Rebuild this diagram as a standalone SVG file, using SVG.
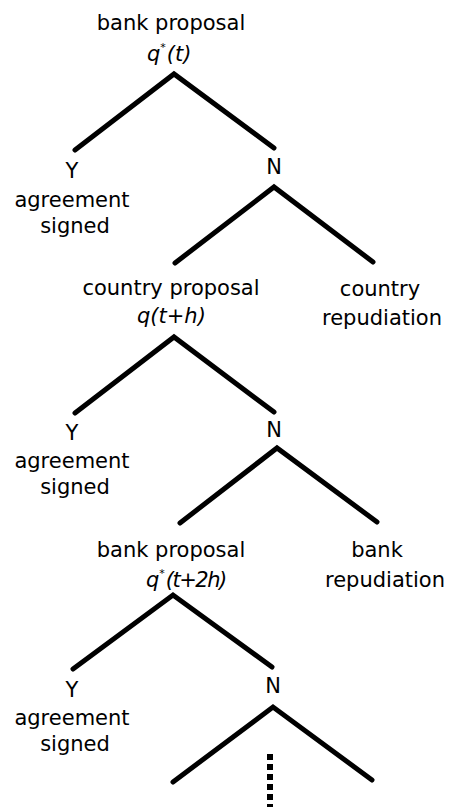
<svg xmlns="http://www.w3.org/2000/svg" width="451" height="807" viewBox="0 0 451 807">
<style>
text{font-family:"DejaVu Sans","Noto Sans",sans-serif;font-size:21px;fill:#000;text-anchor:middle}
.it{font-style:italic;text-anchor:start}
.sup{font-size:11px}
.br{fill:none;stroke:#000;stroke-width:5;stroke-linejoin:miter;stroke-linecap:round}
.dots{fill:none;stroke:#000;stroke-width:6;stroke-dasharray:6 4}
</style>
<rect width="451" height="807" fill="#fff"/>
<g id="connectors">
<polyline class="br" points="75,150 174,74 274,148"/>
<polyline class="br" points="175,263 274,187 373,262"/>
<polyline class="br" points="75,413 174,337 274,412"/>
<polyline class="br" points="180,523 277,448 377,522"/>
<polyline class="br" points="73,669 173,595 272,667"/>
<polyline class="br" points="173,782 273,707 372,780"/>
<line class="dots" x1="270" y1="754" x2="270" y2="807"/>
</g>
<g id="bank1">
<text x="171" y="30">bank proposal</text>
<text class="it" x="147" y="61">q<tspan class="sup" dy="-10">*</tspan><tspan dx="1" dy="10">(t)</tspan></text>
</g>
<g id="yes1">
<text x="72" y="178">Y</text>
<text x="72" y="207">agreement</text>
<text x="75" y="233">signed</text>
</g>
<g id="no1"><text x="274" y="174">N</text></g>
<g id="country2">
<text x="171" y="295">country proposal</text>
<text class="it" x="137" y="323">q(t+h)</text>
</g>
<g id="crep"><text x="380" y="296">country</text><text x="382" y="325">repudiation</text></g>
<g id="yes2">
<text x="72" y="440">Y</text>
<text x="72" y="468">agreement</text>
<text x="75" y="494">signed</text>
</g>
<g id="no2"><text x="274" y="437">N</text></g>
<g id="bank3">
<text x="171" y="557">bank proposal</text>
<text class="it" x="146" y="587">q<tspan class="sup" dy="-10">*</tspan><tspan dx="1" dy="10" style="letter-spacing:-1.5px">(t+2h)</tspan></text>
</g>
<g id="brep"><text x="377" y="557">bank</text><text x="385" y="587">repudiation</text></g>
<g id="yes3">
<text x="72" y="697">Y</text>
<text x="72" y="725">agreement</text>
<text x="75" y="751">signed</text>
</g>
<g id="no3"><text x="273" y="693">N</text></g>
</svg>
